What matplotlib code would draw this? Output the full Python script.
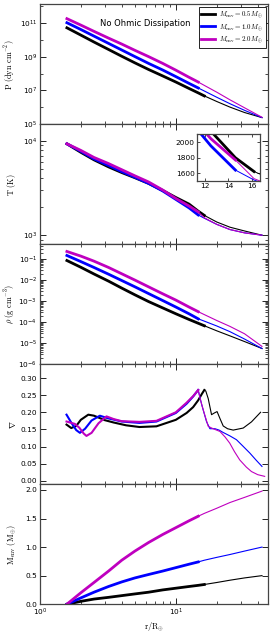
import matplotlib
matplotlib.use("Agg")
import matplotlib.pyplot as plt
import numpy as np
from matplotlib.ticker import FixedLocator, LogLocator, MultipleLocator, NullFormatter

plt.rcParams['mathtext.fontset'] = 'cm'
plt.rcParams['font.family'] = 'DejaVu Sans'

# radius grid (r / R_earth) shared by P, T, rho and M_env
r = [1.58, 2.0, 2.5, 3.2, 4.0, 5.0, 6.3, 8.0, 10.0, 12.5, 14.6, 16.2, 20.0, 25.0, 32.0, 43.0]

labels = [r'$M_{\rm env}=0.5M_{\oplus}$', r'$M_{\rm env}=1.0M_{\oplus}$', r'$M_{\rm env}=2.0M_{\oplus}$']
colors = ['k', 'b', 'm']
r_break = [16.2, 14.6, 14.6]   # thick line up to here

# log10 P (dyn cm^-2)
logP_05 = [10.70, 10.27, 9.86, 9.42, 9.02, 8.63, 8.24, 7.86, 7.50, 7.12, 6.86, 6.68, 6.35, 6.02, 5.70, 5.40]
logP_10 = [11.00, 10.60, 10.21, 9.78, 9.39, 9.00, 8.60, 8.21, 7.82, 7.42, 7.15, 6.97, 6.60, 6.22, 5.83, 5.40]
logP_20 = [11.24, 10.86, 10.49, 10.09, 9.74, 9.37, 9.00, 8.60, 8.20, 7.78, 7.50, 7.30, 6.90, 6.45, 5.98, 5.42]

# log10 T (K)
logT_05 = [3.97, 3.88, 3.80, 3.725, 3.665, 3.61, 3.55, 3.475, 3.40, 3.33, 3.255, 3.21, 3.14, 3.085, 3.045, 3.0]
logT_10 = [3.97, 3.89, 3.81, 3.74, 3.675, 3.615, 3.55, 3.47, 3.38, 3.29, 3.215, 3.18, 3.115, 3.06, 3.025, 3.0]
logT_20 = [3.97, 3.90, 3.825, 3.76, 3.695, 3.63, 3.565, 3.48, 3.39, 3.31, 3.248, 3.185, 3.115, 3.06, 3.025, 3.0]

# log10 rho (g cm^-3)
logrho_05 = [-1.07, -1.39, -1.71, -2.05, -2.38, -2.70, -3.02, -3.32, -3.60, -3.87, -4.05, -4.17, -4.41, -4.65, -4.92, -5.25]
logrho_10 = [-0.83, -1.12, -1.40, -1.72, -2.02, -2.32, -2.64, -2.97, -3.28, -3.60, -3.84, -3.95, -4.18, -4.45, -4.80, -5.25]
logrho_20 = [-0.64, -0.86, -1.10, -1.40, -1.70, -2.00, -2.32, -2.65, -2.95, -3.28, -3.50, -3.64, -3.92, -4.20, -4.55, -5.15]

# M_env (M_earth)
M_05 = [0.0, 0.05, 0.09, 0.12, 0.15, 0.18, 0.21, 0.25, 0.28, 0.31, 0.33, 0.345, 0.38, 0.42, 0.46, 0.50]
M_10 = [0.0, 0.11, 0.21, 0.31, 0.39, 0.46, 0.52, 0.58, 0.64, 0.70, 0.74, 0.77, 0.82, 0.87, 0.93, 1.00]
M_20 = [0.0, 0.20, 0.38, 0.58, 0.77, 0.93, 1.08, 1.22, 1.34, 1.46, 1.54, 1.59, 1.68, 1.78, 1.87, 1.98]

# temperature gradient nabla, own radius grids
nab_r_05 = [1.57, 1.7, 1.85, 2.0, 2.27, 2.5, 2.76, 3.0, 3.5, 4.3, 5.4, 7.2, 10, 12, 13.4, 14.6, 15.5, 16.2,
            16.6, 17.3, 18.3, 19.2, 20.1, 21.2, 22.3, 24, 26.4, 31.3, 36, 42]
nab_05 = [0.164, 0.154, 0.16, 0.178, 0.193, 0.19, 0.183, 0.177, 0.17, 0.162, 0.157, 0.159, 0.178, 0.198, 0.215,
          0.235, 0.253, 0.265, 0.262, 0.24, 0.193, 0.198, 0.202, 0.18, 0.16, 0.152, 0.148, 0.154, 0.172, 0.2]
nab_r_10 = [1.57, 1.7, 1.85, 1.97, 2.15, 2.4, 2.76, 3.2, 4.0, 5.4, 7.2, 10, 12, 13.4, 14.6, 15.0, 15.5, 16.2,
            16.8, 17.8, 19.4, 20.8, 22.3, 25, 27.9, 31, 35, 39, 43]
nab_10 = [0.193, 0.17, 0.148, 0.14, 0.152, 0.176, 0.19, 0.182, 0.173, 0.169, 0.173, 0.198, 0.225, 0.246, 0.265,
          0.245, 0.222, 0.195, 0.173, 0.152, 0.152, 0.148, 0.141, 0.131, 0.12, 0.102, 0.081, 0.06, 0.042]
nab_r_20 = [1.57, 1.81, 1.95, 2.1, 2.2, 2.4, 2.7, 3.09, 3.5, 4.0, 5.4, 7.2, 10, 12, 13.4, 14.6, 15.2, 15.9,
            17.3, 18.8, 21.1, 23, 24.9, 27, 29.5, 33, 36, 40, 45]
nab_20 = [0.173, 0.166, 0.155, 0.138, 0.131, 0.14, 0.168, 0.188, 0.18, 0.174, 0.172, 0.175, 0.2, 0.228, 0.247,
          0.265, 0.235, 0.207, 0.159, 0.152, 0.144, 0.128, 0.11, 0.085, 0.061, 0.04, 0.027, 0.018, 0.013]


def draw(ax, x, y, rb, color, lw_thick=2.0, lw_thin=0.8, label=None):
    x = np.asarray(x)
    y = np.asarray(y)
    ax.plot(x[x <= rb], y[x <= rb], color=color, lw=lw_thick, label=label)
    ax.plot(x[x >= rb], y[x >= rb], color=color, lw=lw_thin)


fig, axes = plt.subplots(5, 1, sharex=True, figsize=(2.77, 6.33), dpi=100)
fig.subplots_adjust(left=0.144, right=0.967, top=0.993, bottom=0.0455, hspace=0)

P = [logP_05, logP_10, logP_20]
T = [logT_05, logT_10, logT_20]
rho = [logrho_05, logrho_10, logrho_20]
M = [M_05, M_10, M_20]
nab = [(nab_r_05, nab_05), (nab_r_10, nab_10), (nab_r_20, nab_20)]

for i in range(3):
    draw(axes[0], r, 10 ** np.array(P[i]), r_break[i], colors[i], label=labels[i])
    draw(axes[1], r, 10 ** np.array(T[i]), r_break[i], colors[i])
    draw(axes[2], r, 10 ** np.array(rho[i]), r_break[i], colors[i])
    draw(axes[3], nab[i][0], nab[i][1], r_break[i], colors[i], lw_thick=1.5)
    draw(axes[4], r, M[i], r_break[i], colors[i])

ax = axes[0]
ax.set_yscale('log')
ax.set_ylim(1e5, 1.2e12)
ax.yaxis.set_major_locator(FixedLocator([1e5, 1e7, 1e9, 1e11]))
ax.yaxis.set_minor_locator(FixedLocator([1e6, 1e8, 1e10, 1e12]))
ax.yaxis.set_minor_formatter(NullFormatter())
ax.set_ylabel(r'$\mathrm{P\ (dyn\ cm^{-2})}$')
ax.text(0.265, 0.84, 'No Ohmic Dissipation', transform=ax.transAxes, fontsize=6, va='center')
leg = ax.legend(loc='upper right', fontsize=5, handlelength=2.0, borderaxespad=0.3,
                fancybox=False, framealpha=1, borderpad=0.4, labelspacing=0.3, handletextpad=0.6)
leg.get_frame().set_edgecolor('k')
leg.get_frame().set_linewidth(0.6)

ax = axes[1]
ax.set_yscale('log')
ax.set_ylim(800, 1.5e4)
ax.yaxis.set_minor_formatter(NullFormatter())
ax.set_ylabel(r'$\mathrm{T\ (K)}$')

ax = axes[2]
ax.set_yscale('log')
ax.set_ylim(1e-6, 0.5)
ax.yaxis.set_major_locator(LogLocator(base=10, numticks=20))
ax.yaxis.set_minor_formatter(NullFormatter())
ax.set_ylabel(r'$\rho\ \mathrm{(g\ cm^{-3})}$')

ax = axes[3]
ax.set_ylim(-0.01, 0.34)
ax.yaxis.set_major_locator(MultipleLocator(0.05))
ax.yaxis.set_major_formatter(plt.FormatStrFormatter('%.2f'))
ax.set_ylabel(r'$\nabla$')

ax = axes[4]
ax.set_ylim(0, 2.1)
ax.yaxis.set_major_locator(MultipleLocator(0.5))
ax.yaxis.set_major_formatter(plt.FormatStrFormatter('%.1f'))
ax.set_ylabel(r'$\mathrm{M_{env}\ (M_{\oplus})}$')
ax.set_xscale('log')
ax.set_xlim(1, 47.5)
ax.set_xlabel(r'$\mathrm{r/R_{\oplus}}$', fontsize=6, labelpad=1)

for ax in axes:
    ax.tick_params(which='both', direction='in', top=True, right=True, labelsize=5.3, pad=2)
    ax.tick_params(which='major', length=4, width=0.6)
    ax.tick_params(which='minor', length=2, width=0.5)
    ax.yaxis.label.set_size(6)
    ax.yaxis.set_label_coords(-0.095, 0.5)
    for s in ax.spines.values():
        s.set_linewidth(0.9)
        s.set_color('#444444')

# inset zoom on T
axi = fig.add_axes([0.711, 0.714, 0.227, 0.074])
for i in range(3):
    draw(axi, r, 10 ** np.array(T[i]), r_break[i], colors[i], lw_thick=2.0, lw_thin=0.7)
axi.set_xlim(11.3, 16.7)
axi.set_ylim(1500, 2100)
axi.set_xticks([12, 14, 16])
axi.set_yticks([1600, 1800, 2000])
axi.tick_params(direction='in', labelsize=5.3, length=2.5, width=0.5, pad=1.5, top=True, right=True)
for s in axi.spines.values():
    s.set_linewidth(0.9)
    s.set_color('#444444')

fig.savefig('out.png', dpi=100)
